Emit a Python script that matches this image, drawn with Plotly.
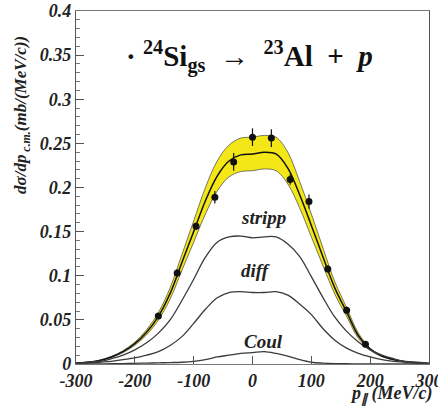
import plotly.graph_objects as go

# ---- data ----
p_grid = [-300, -280, -260, -240, -220, -200, -180, -160, -140, -120, -100, -80, -60, -40, -20,
          0, 20, 40, 60, 80, 100, 120, 140, 160, 180, 200, 220, 240, 260, 280, 300]

total = [0.001, 0.002, 0.004, 0.008, 0.014, 0.023, 0.036, 0.054, 0.080, 0.115, 0.150, 0.185, 0.213, 0.230, 0.237,
         0.238, 0.240, 0.238, 0.222, 0.192, 0.157, 0.121, 0.086, 0.059, 0.032, 0.017, 0.009, 0.005, 0.0025, 0.0012, 0.0006]
band_upper = [0.0011, 0.0022, 0.0043, 0.0086, 0.0151, 0.0248, 0.0389, 0.0583, 0.0864, 0.124, 0.162, 0.200, 0.230, 0.248, 0.256,
              0.257, 0.259, 0.257, 0.240, 0.207, 0.170, 0.131, 0.093, 0.064, 0.035, 0.018, 0.0097, 0.0054, 0.0027, 0.0013, 0.00065]
band_lower = [0.0009, 0.0018, 0.0037, 0.0074, 0.0129, 0.0212, 0.0331, 0.0497, 0.0736, 0.106, 0.138, 0.170, 0.196, 0.212, 0.218,
              0.219, 0.221, 0.219, 0.204, 0.177, 0.144, 0.111, 0.079, 0.054, 0.029, 0.0156, 0.0083, 0.0046, 0.0023, 0.0011, 0.00055]

stripp = [0.001, 0.002, 0.003, 0.006, 0.010, 0.016, 0.024, 0.035, 0.050, 0.072, 0.096, 0.121, 0.138, 0.144, 0.145,
          0.143, 0.144, 0.144, 0.136, 0.122, 0.099, 0.075, 0.053, 0.037, 0.025, 0.016, 0.010, 0.006, 0.003, 0.002, 0.001]
diff = [0.0005, 0.001, 0.002, 0.003, 0.005, 0.007, 0.010, 0.014, 0.021, 0.031, 0.046, 0.062, 0.075, 0.081, 0.082,
        0.081, 0.081, 0.082, 0.078, 0.068, 0.056, 0.040, 0.027, 0.018, 0.012, 0.008, 0.005, 0.003, 0.002, 0.001, 0.0005]
coul = [0.0, 0.0001, 0.0002, 0.0003, 0.0005, 0.0008, 0.001, 0.0013, 0.0016, 0.002, 0.003, 0.005, 0.008, 0.010, 0.012,
        0.013, 0.014, 0.012, 0.009, 0.005, 0.002, 0.001, 0.0005, 0.0003, 0.0002, 0.0001, 0.0, 0.0, 0.0, 0.0, 0.0]

data_p = [-160, -128, -96, -64, -32, 0, 32, 64, 96, 128, 160, 192]
data_y = [0.0545, 0.103, 0.156, 0.189, 0.229, 0.257, 0.256, 0.209, 0.184, 0.1076, 0.061, 0.0224]
data_err = [0.003, 0.004, 0.004, 0.007, 0.010, 0.010, 0.010, 0.006, 0.008, 0.004, 0.004, 0.003]

x_ticks = [-300, -200, -100, 0, 100, 200, 300]
x_tick_text = ["-300", "-200", "-100", "0", "100", "200", "300"]
y_ticks = [0, 0.05, 0.1, 0.15, 0.2, 0.25, 0.3, 0.35, 0.4]
y_tick_text = ["0", "0.05", "0.1", "0.15", "0.2", "0.25", "0.3", "0.35", "0.4"]

SERIF = "Liberation Serif"


def bi(s):
    return "<b><i>" + s + "</i></b>"


fig = go.Figure()

fig.add_trace(go.Scatter(x=p_grid, y=band_lower, mode="lines",
                         line=dict(color="#555555", width=0.8, shape="spline"),
                         showlegend=False, hoverinfo="skip"))
fig.add_trace(go.Scatter(x=p_grid, y=band_upper, mode="lines", fill="tonexty",
                         fillcolor="#f4e717",
                         line=dict(color="#555555", width=0.8, shape="spline"),
                         showlegend=False, hoverinfo="skip"))
fig.add_trace(go.Scatter(x=p_grid, y=total, mode="lines",
                         line=dict(color="#111111", width=1.5, shape="spline"),
                         showlegend=False))

for comp in (stripp, diff, coul):
    fig.add_trace(go.Scatter(x=p_grid, y=comp, mode="lines",
                             line=dict(color="#3a3a3a", width=1.3, shape="spline"),
                             showlegend=False))

fig.add_trace(go.Scatter(x=data_p, y=data_y, mode="markers",
                         marker=dict(color="#111111", size=7),
                         error_y=dict(type="data", array=data_err, color="#111111", thickness=1.2, width=0),
                         showlegend=False))

tickfont = dict(family=SERIF, size=18, color="#222222")

fig.update_xaxes(range=[-300, 300], tickvals=x_ticks, ticktext=[bi(t) for t in x_tick_text],
                 ticks="inside", ticklen=8, tickcolor="#555555", tickwidth=1,
                 ticklabeloverflow="allow", automargin=False,
                 showline=True, linecolor="#777777", linewidth=1.2, mirror=True,
                 showgrid=False, zeroline=False, tickfont=tickfont)
fig.update_yaxes(range=[0, 0.4], tickvals=y_ticks, ticktext=[bi(t) for t in y_tick_text],
                 ticks="inside", ticklen=8, tickcolor="#555555", tickwidth=1,
                 ticklabeloverflow="allow", automargin=False,
                 minor=dict(dtick=0.01, ticks="inside", ticklen=4, tickcolor="#777777"),
                 showline=True, linecolor="#555555", linewidth=1.2, mirror=True,
                 showgrid=False, zeroline=False, tickfont=tickfont)

labfont = dict(family=SERIF, size=19, color="#222222")
annotations = [
    dict(x=18, y=0.166, text=bi("stripp"), font=labfont),
    dict(x=5, y=0.106, text=bi("diff"), font=labfont),
    dict(x=19, y=0.026, text=bi("Coul"), font=labfont),
]
for a in annotations:
    a.update(xref="x", yref="y", showarrow=False, xanchor="center", yanchor="middle")

W, H = 438, 407
pl, pr, pt, pb = 76, 9, 11, 43


def px_to_paper(xp, yp):
    return (xp - pl) / (W - pl - pr), ((H - yp) - pb) / (H - pt - pb)


tx, ty = px_to_paper(249, 57)
yx, yy = px_to_paper(22, 115)
xx, xy = px_to_paper(434, 394)

annotations += [
    dict(x=tx, y=ty, xref="paper", yref="paper", showarrow=False, xanchor="center", yanchor="middle",
         text="<b>·&nbsp;<sup>24</sup>Si<sub>gs</sub>&nbsp;&nbsp;→&nbsp;&nbsp;<sup>23</sup>Al&nbsp;&nbsp;+&nbsp;&nbsp;<i>p</i></b>",
         font=dict(family=SERIF, size=29, color="#111111")),
    dict(x=yx, y=yy, xref="paper", yref="paper", showarrow=False, textangle=-90,
         xanchor="center", yanchor="middle",
         text=bi("dσ/dp<sub> c.m.</sub>(mb/(MeV/c))"),
         font=dict(family=SERIF, size=17, color="#222222")),
    dict(x=xx, y=xy, xref="paper", yref="paper", showarrow=False, xanchor="right", yanchor="middle",
         text=bi("p<sub>∥</sub> (MeV/c)"),
         font=dict(family=SERIF, size=18, color="#222222")),
]

fig.update_layout(
    width=W, height=H,
    margin=dict(l=pl, r=pr, t=pt, b=pb, autoexpand=False),
    paper_bgcolor="white", plot_bgcolor="white",
    font=dict(family=SERIF),
    annotations=annotations,
)

fig.write_html("out.html")
